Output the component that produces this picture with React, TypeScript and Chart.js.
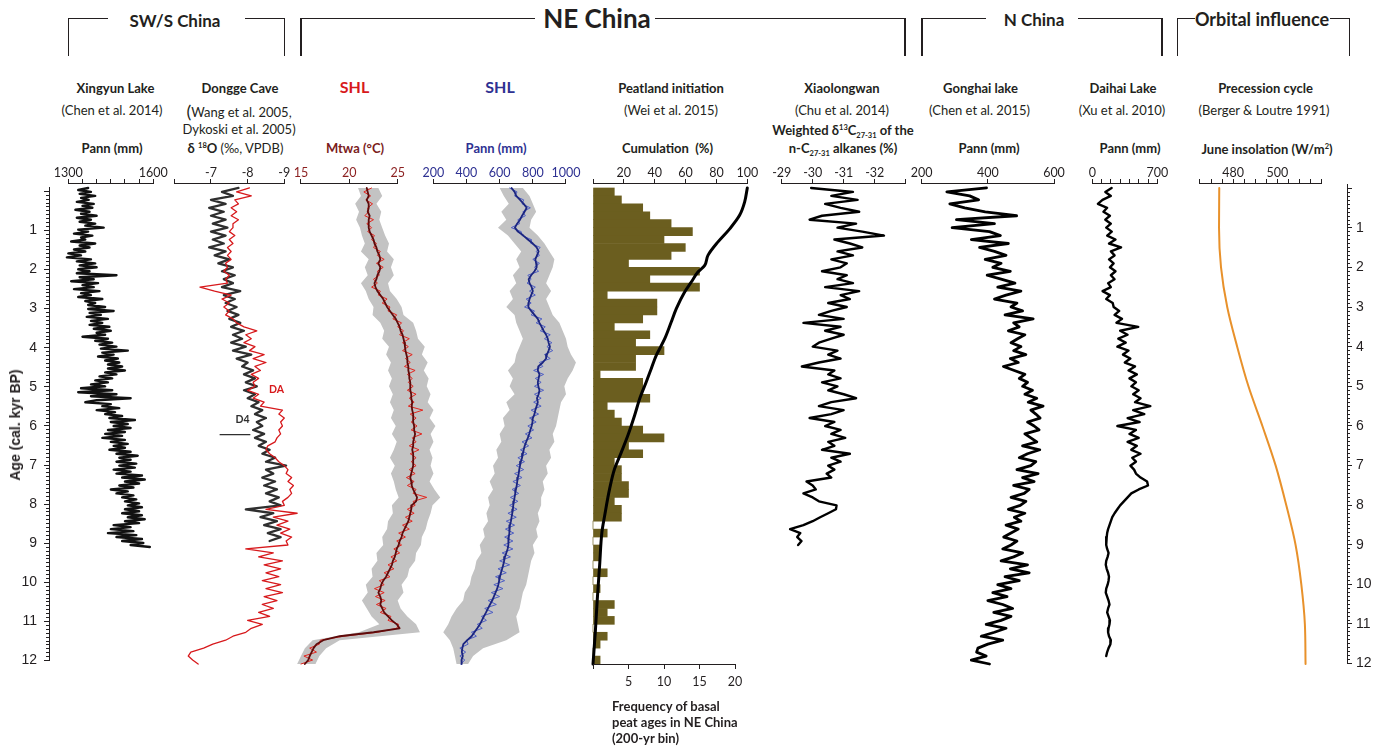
import React, { useEffect, useRef } from 'react';
import { Chart, registerables } from 'chart.js';

Chart.register(...registerables);

const FONT = "Lato, 'Open Sans', 'DejaVu Sans', sans-serif";
const AGE_FONT = "'Liberation Sans Narrow', 'Liberation Sans', Arial, sans-serif";
const INK = '#231f20';

Chart.defaults.font.family = FONT;
Chart.defaults.color = INK;

// shared vertical age frame (page px)
const PLOT_TOP = 184;
const PLOT_H = 480;
const AXIS_H = 28;
const AXIS_H_B = 26;
const PAD_T = 4;
const PAD_B = 14;
const AGE_PAD = 12;
const AGE_AXIS_W = 40;
const AGE_MIN = -0.1;
const AGE_MAX = 12;

/* ================= data ================= */

const AGE_LABELS = [1, 2, 3, 4, 5, 6, 7, 8, 9, 10, 11, 12];
const AGE_MAJOR = [0, 1, 2, 3, 4, 5, 6, 7, 8, 9, 10, 11, 12];
const AGE_MINOR = Array.from({ length: 121 }, (_, i) => i / 10);

// Xingyun Lake, Pann (mm), 0.05 kyr spacing from 0 ka
const XINGYUN_STEP = 0.05;
const xingyunPann = [
  1370, 1335, 1380, 1340, 1395, 1345, 1372, 1330, 1390, 1350,
  1385, 1325, 1375, 1345, 1400, 1330, 1380, 1340, 1395, 1360,
  1425, 1335, 1370, 1320, 1385, 1345, 1360, 1310, 1395, 1340,
  1375, 1320, 1360, 1300, 1345, 1295, 1380, 1330, 1395, 1340,
  1400, 1335, 1375, 1330, 1470, 1340, 1390, 1310, 1405, 1350,
  1390, 1320, 1410, 1345, 1380, 1335, 1420, 1360, 1395, 1370,
  1430, 1370, 1460, 1375, 1415, 1365, 1440, 1380, 1420, 1375,
  1445, 1390, 1450, 1400, 1430, 1350, 1440, 1395, 1455, 1410,
  1470, 1415, 1510, 1420, 1460, 1405, 1475, 1430, 1480, 1440,
  1490, 1440, 1500, 1430, 1470, 1410, 1455, 1395, 1440, 1380,
  1430, 1345, 1455, 1335, 1470, 1380, 1520, 1400, 1360, 1450,
  1420, 1480, 1400, 1465, 1430, 1490, 1445, 1535, 1450, 1510,
  1460, 1520, 1440, 1500, 1430, 1490, 1420, 1500, 1450, 1510,
  1460, 1500, 1445, 1520, 1470, 1545, 1480, 1520, 1470, 1540,
  1480, 1535, 1460, 1520, 1470, 1560, 1490, 1570, 1500, 1550,
  1480, 1530, 1450, 1510, 1470, 1530, 1490, 1540, 1500, 1550,
  1510, 1560, 1500, 1550, 1490, 1560, 1510, 1570, 1500, 1550,
  1460, 1520, 1450, 1530, 1440, 1540, 1470, 1560, 1490, 1565,
  1520, 1588,
];

// Dongge Cave d18O (permil), 0.1 kyr spacing
const DONGGE_STEP = 0.1;
const donggeD4 = [
  -7.75, -7.3, -7.6, -7.0, -7.4, -6.95, -7.35, -7.0, -7.4, -7.05,
  -7.45, -7.0, -7.4, -7.05, -7.35, -6.95, -7.4, -7.1, -7.5, -7.2,
  -7.6, -7.3, -7.65, -7.35, -7.6, -7.3, -7.8, -7.35, -7.65, -7.4,
  -7.7, -7.45, -7.75, -7.5, -7.8, -7.55, -7.9, -7.6, -7.85, -7.55,
  -7.95, -7.6, -8.1, -7.7, -8.0, -7.85, -8.15, -7.9, -8.2, -7.95,
  -8.25, -7.9, -8.2, -8.0, -8.3, -8.1, -8.4, -8.2, -8.5, -8.25,
  -8.4, -8.15, -8.45, -8.2, -8.5, -8.3, -8.6, -8.4, -8.75, -8.5,
  -9.05, -8.5, -8.7, -8.4, -8.75, -8.45, -8.8, -8.5, -8.85, -8.6,
  -8.9, -7.95, -8.7, -8.35, -8.8, -8.45, -8.9, -8.55, -8.9, -8.6,
];
const donggeDA = [
  -8.05, -7.7, -8.1, -7.65, -7.75, -7.55, -7.7, -7.55, -7.75, -7.6,
  -7.6, -7.5, -7.65, -7.5, -7.6, -7.45, -7.55, -7.45, -7.55, -7.4,
  -7.45, -7.35, -7.5, -7.4, -7.45, -6.7, -7.1, -7.55, -7.3, -7.5,
  -7.35, -7.5, -7.4, -7.6, -7.7, -7.9, -8.25, -7.95, -8.1, -7.9,
  -8.2, -8.05, -8.45, -8.15, -8.5, -8.2, -8.35, -8.1, -8.3, -8.15,
  -8.2, -8.0, -8.3, -8.15, -8.45, -8.35, -8.95, -8.85, -9.0, -8.9,
  -8.95, -8.85, -8.9, -8.8, -8.75, -8.55, -8.5, -8.6, -8.75, -8.85,
  -9.0, -9.1, -9.05, -9.2, -9.1, -9.25, -9.15, -9.2, -9.1, -8.95,
  -9.0, -8.5, -9.35, -8.7, -9.1, -8.8, -9.15, -8.9, -9.2, -9.05,
  -9.1, -7.95, -8.7, -8.3, -8.95, -8.45, -8.9, -8.5, -8.85, -8.4,
  -8.9, -8.5, -8.95, -8.45, -8.8, -8.4, -8.7, -8.3, -8.6, -8.0,
  -8.4, -8.1, -7.95, -7.6, -7.4, -7.05, -6.8, -6.45, -6.38, -6.5,
  -6.65,
];
const d4MarkerAge = [6.22, 6.22];
const d4MarkerValue = [-7.25, -8.06];

// SHL pollen reconstruction, 0.1 kyr (lines) and 0.2 kyr (error envelope)
const SHL_STEP = 0.1;
const SHL_BAND_STEP = 0.2;
const mtwaSmooth = [
  21.8, 21.9, 22.0, 21.8, 22.0, 22.0, 21.9, 22.1, 22.0, 22.0,
  22.0, 22.1, 22.3, 22.5, 22.6, 22.8, 22.9, 23.1, 23.2, 23.0,
  23.2, 23.1, 22.9, 22.8, 22.6, 22.7, 22.9, 23.2, 23.5, 23.7,
  23.9, 24.2, 24.5, 24.8, 25.0, 25.2, 25.3, 25.5, 25.6, 25.7,
  25.75, 25.8, 25.9, 26.0, 26.0, 26.1, 26.1, 26.2, 26.2, 26.3,
  26.3, 26.3, 26.4, 26.4, 26.5, 26.45, 26.5, 26.6, 26.6, 26.6,
  26.7, 26.7, 26.8, 26.7, 26.6, 26.6, 26.5, 26.6, 26.6, 26.6,
  26.6, 26.5, 26.4, 26.3, 26.4, 26.45, 26.6, 26.8, 27.0, 26.9,
  26.45, 26.4, 26.3, 26.2, 26.1, 25.9, 25.7, 25.5, 25.4, 25.2,
  25.1, 24.9, 24.8, 24.7, 24.5, 24.4, 24.2, 24.0, 23.8, 23.5,
  23.3, 23.2, 23.0, 23.2, 23.3, 23.2, 23.4, 23.6, 24.0, 24.4,
  24.9, 25.2, 22.5, 19.0, 17.3, 16.6, 16.3, 16.1, 15.9, 15.75,
  15.4,
];
const mtwaRaw = [
  22.3, 21.5, 22.2, 21.7, 22.4, 21.9, 22.0, 21.6, 22.5, 21.8,
  22.3, 21.9, 22.6, 22.3, 22.8, 22.5, 23.2, 22.9, 23.6, 22.8,
  23.5, 22.9, 23.1, 22.5, 22.9, 22.3, 23.2, 23.0, 23.9, 23.4,
  24.2, 24.0, 24.9, 24.5, 25.4, 25.0, 25.6, 25.2, 26.2, 25.5,
  26.1, 25.5, 26.5, 25.8, 26.3, 25.7, 26.8, 26.0, 26.5, 26.1,
  26.6, 26.0, 26.9, 26.2, 26.7, 26.1, 27.6, 26.3, 26.9, 26.4,
  27.0, 26.4, 27.5, 26.5, 26.9, 26.2, 27.2, 26.3, 26.9, 26.4,
  26.9, 26.2, 26.8, 25.9, 26.7, 26.0, 26.9, 26.6, 28.0, 26.6,
  26.8, 26.0, 26.7, 25.8, 26.5, 25.5, 26.2, 25.1, 25.8, 24.9,
  25.4, 24.6, 25.2, 24.3, 24.9, 24.0, 24.6, 23.6, 24.2, 23.1,
  23.6, 22.6, 23.6, 22.7, 23.7, 22.8, 23.8, 23.2, 24.3, 24.0,
  25.1, 24.9, 22.9, 19.4, 17.0, 16.9, 15.9, 16.6, 15.3, 16.2,
  15.0,
];
const mtwaLow = [
  20.9, 21.2, 20.6, 21.0, 20.7, 21.1, 21.3, 21.6, 21.2, 22.0,
  21.6, 21.9, 21.2, 21.7, 22.0, 22.5, 22.4, 23.2, 23.6, 23.4,
  24.1, 23.8, 24.3, 24.0, 24.4, 24.1, 24.5, 24.2, 24.6, 24.3,
  24.8, 24.4, 24.9, 24.6, 24.2, 24.7, 24.3, 24.6, 24.8, 25.1,
  24.4, 24.5, 24.0, 23.9, 23.4, 23.5, 22.8, 22.9, 22.3, 22.4,
  21.7, 21.9, 21.3, 21.8, 22.3, 23.1, 21.0, 16.2, 15.4, 15.0,
  14.6,
];
const mtwaHigh = [
  23.0, 23.4, 22.8, 23.3, 23.1, 23.4, 23.7, 24.1, 23.9, 24.6,
  24.3, 24.6, 24.0, 24.2, 24.9, 25.4, 25.6, 26.6, 26.9, 27.1,
  27.8, 27.5, 28.1, 27.7, 28.2, 28.0, 28.4, 28.1, 28.7, 28.3,
  28.9, 28.4, 28.7, 28.3, 28.6, 28.4, 28.7, 28.3, 28.8, 29.4,
  28.6, 28.4, 28.1, 27.9, 27.5, 27.4, 26.9, 26.8, 26.2, 26.0,
  25.4, 25.6, 25.0, 25.3, 26.0, 26.9, 27.3, 19.0, 17.6, 16.9,
  16.5,
];
const pannSmooth = [
  672, 690, 700, 723, 745, 763, 750, 735, 723, 705,
  692, 710, 743, 770, 800, 823, 835, 825, 815, 820,
  823, 810, 790, 775, 780, 793, 800, 790, 780, 775,
  773, 790, 810, 830, 840, 853, 865, 880, 890, 895,
  903, 895, 885, 880, 860, 833, 830, 840, 835, 830,
  833, 840, 835, 825, 830, 823, 815, 810, 800, 798,
  793, 785, 778, 770, 760, 751, 745, 740, 735, 728,
  723, 718, 715, 710, 706, 703, 698, 694, 690, 686,
  682, 680, 676, 672, 668, 662, 660, 657, 655, 653,
  652, 648, 640, 632, 627, 622, 615, 608, 602, 597,
  592, 585, 575, 565, 555, 542, 530, 518, 505, 493,
  481, 465, 448, 431, 405, 381, 375, 372, 378, 370,
  371,
];
const pannRaw = [
  660, 705, 690, 745, 735, 785, 740, 755, 710, 720,
  670, 730, 735, 790, 790, 845, 820, 840, 800, 840,
  810, 835, 770, 790, 765, 815, 780, 815, 760, 790,
  750, 810, 790, 855, 820, 875, 845, 905, 870, 915,
  885, 920, 870, 905, 840, 860, 805, 865, 815, 850,
  810, 865, 810, 850, 805, 850, 790, 835, 780, 820,
  770, 805, 755, 795, 735, 775, 725, 765, 710, 750,
  700, 745, 690, 735, 680, 725, 675, 715, 665, 710,
  660, 705, 650, 700, 640, 690, 635, 685, 630, 680,
  625, 680, 615, 665, 600, 660, 590, 640, 575, 630,
  565, 620, 550, 600, 530, 580, 510, 560, 490, 520,
  465, 495, 430, 460, 400, 410, 360, 395, 360, 390,
  365,
];
const pannLow = [
  600, 625, 655, 610, 640, 590, 650, 690, 730, 700,
  720, 680, 700, 660, 680, 640, 690, 700, 720, 740,
  720, 700, 690, 650, 680, 660, 690, 640, 660, 620,
  630, 600, 610, 580, 590, 560, 570, 540, 560, 530,
  540, 520, 530, 500, 510, 480, 490, 460, 450, 430,
  420, 390, 380, 340, 310, 290, 260, 300, 320, 330,
  340,
];
const pannHigh = [
  740, 780, 800, 820, 790, 780, 830, 870, 900, 930,
  920, 900, 880, 910, 880, 900, 920, 960, 980, 1000,
  1010, 1030, 1060, 1040, 1010, 990, 1000, 970, 960, 950,
  940, 920, 930, 900, 910, 880, 890, 860, 870, 850,
  850, 830, 840, 820, 830, 800, 810, 790, 780, 770,
  760, 740, 730, 720, 700, 710, 720, 640, 500, 440,
  410,
];

// Peatland initiation: 200-yr bins of basal peat ages and their cumulative share
const PEAT_BIN = 0.2;
const peatFreq = [
  3, 4, 7, 8, 11, 14, 10, 13, 11, 5,
  15, 8, 15, 2, 9, 9, 7, 3, 8, 6,
  10, 6, 6, 1, 7, 7, 8, 2, 3, 4,
  7, 10, 5, 7, 3, 4, 4, 5, 5, 3,
  4, 4, 0, 2, 0, 1, 1, 0, 2, 0,
  1, 0, 3, 2, 3, 0, 2, 1, 0, 1,
];
const peatCumAge = [0, 0.35, 0.69, 1.03, 1.36, 1.7, 1.95, 2.12, 2.37, 2.62, 3.04, 3.38, 3.8, 4.22, 4.55, 4.89, 5.31, 5.73, 6.23, 6.66, 7.08, 7.58, 8.25, 8.67, 9.51, 10.35, 11.19, 12.0];
const peatCumPct = [100, 98.3, 95, 88.6, 81, 74.5, 72.4, 68, 63.7, 59.4, 54, 50.7, 46.5, 41, 37.8, 34.5, 30.3, 27, 22.7, 18.4, 14, 10.8, 7.6, 5.8, 4.3, 2.8, 1.5, 0];

// Xiaolongwan weighted d13C of n-C27-31 alkanes, 0.1 kyr spacing
const XIAO_STEP = 0.1;
const xiaoD13C = [
  -29.95, -31.3, -30.6, -31.45, -30.4, -30.9, -31.5, -30.3, -29.9, -31.4,
  -30.8, -31.6, -32.3, -30.7, -31.2, -31.6, -30.8, -31.3, -30.6, -31.1,
  -30.9, -30.3, -31.1, -30.8, -31.3, -30.4, -31.5, -30.9, -31.2, -30.5,
  -31.1, -30.6, -30.2, -31.0, -29.7, -30.9, -30.4, -31.0, -30.6, -30.2,
  -30.0, -30.8, -30.5, -30.9, -30.2, -29.65, -30.7, -30.5, -30.9, -30.3,
  -30.8, -30.5, -31.0, -31.4, -30.6, -30.2, -31.0, -30.6, -29.9, -30.7,
  -30.4, -30.9, -30.6, -31.05, -30.5, -30.7, -30.3, -31.2, -30.6, -30.9,
  -30.5, -30.7, -30.45, -30.6, -29.8, -30.0, -30.1, -29.7, -30.0, -30.2,
  -30.77, -30.75, -30.5, -30.24, -30.0, -29.7, -29.27, -29.6, -29.5, -29.64,
  -29.53,
];

// Gonghai Lake, Pann (mm), 0.1 kyr spacing
const GONGHAI_STEP = 0.1;
const gonghaiPann = [
  396, 276, 345, 372, 285, 330, 392, 487, 305, 420,
  292, 405, 438, 350, 462, 375, 420, 455, 392, 440,
  415, 468, 398, 440, 482, 430, 500, 455, 420, 488,
  470, 505, 452, 537, 478, 495, 462, 512, 490, 470,
  500, 478, 515, 468, 492, 447, 480, 512, 495, 520,
  505, 535, 512, 548, 522, 567, 530, 545, 558, 520,
  540, 555, 512, 530, 548, 505, 557, 520, 495, 545,
  530, 488, 552, 505, 540, 478, 525, 510, 470, 515,
  498, 462, 512, 480, 500, 455, 492, 470, 448, 488,
  470, 445, 505, 478, 440, 520, 468, 525, 452, 495,
  430, 470, 415, 458, 400, 445, 475, 418, 470, 440,
  395, 455, 420, 380, 445, 400, 370, 366, 395, 350,
  405, 322,
];

// Daihai Lake, Pann (mm), 0.1 kyr spacing
const DAIHAI_STEP = 0.1;
const daihaiPann = [
  208, 140, 200, 110, 60, 160, 120, 190, 140, 200,
  150, 210, 160, 250, 180, 310, 200, 240, 180, 230,
  190, 250, 200, 240, 170, 200, 110, 190, 150, 220,
  230, 290, 240, 320, 260, 495, 300, 380, 280, 360,
  270, 390, 330, 410, 350, 460, 390, 480, 400, 470,
  420, 500, 440, 520, 460, 625, 440, 560, 380, 510,
  270, 470, 400, 500, 380, 480, 420, 520, 430, 470,
  410, 450, 470, 520, 590, 600, 500, 420, 380, 340,
  300, 270, 240, 215, 200, 185, 170, 160, 155, 150,
  150, 160, 175, 165, 150, 145, 155, 170, 180, 175,
  165, 150, 145, 160, 175, 185, 170, 160, 175, 190,
  185, 175, 170, 180, 200, 195, 175, 160, 150,
];

// June insolation (W/m2), precession cycle, 1 kyr spacing
const insolAge = [0, 1, 2, 3, 4, 5, 6, 7, 8, 9, 10, 11, 12];
const insolJune = [473.7, 473.6, 474.5, 477.3, 481.8, 486.9, 493.2, 499.2, 504, 508.2, 510.8, 512.4, 512.7];

// axis ticks and labelled ticks
const xingyunTicks = [1300, 1350, 1400, 1450, 1500, 1550, 1600];
const xingyunLabels = [1300, 1600];
const donggeTicks = [-6, -7, -8, -9];
const donggeLabels = [-7, -8, -9];
const mtwaTicks = [15, 20, 25];
const shlPannTicks = [200, 400, 600, 800, 1000];
const cumTicks = [0, 20, 40, 60, 80, 100];
const cumLabels = [20, 40, 60, 80, 100];
const freqTicks = [0, 5, 10, 15, 20];
const freqLabels = [5, 10, 15, 20];
const xiaoTicks = [-29, -30, -31, -32, -33];
const xiaoLabels = [-29, -30, -31, -32];
const gonghaiTicks = [200, 400, 600];
const daihaiTicks = [0, 100, 200, 300, 400, 500, 600, 700];
const daihaiLabels = [0, 700];
const insolTicks = [465, 470, 475, 480, 485, 490, 495, 500, 505, 510, 515, 520];
const insolLabels = [480, 500];

/* ================= helpers ================= */

type Pt = { x: number; y: number };
const profile = (step: number, values: number[]): Pt[] =>
  values.map((v, i) => ({ x: v, y: Math.round(i * step * 1000) / 1000 }));
const pairs = (ages: number[], values: number[]): Pt[] => ages.map((a, i) => ({ x: values[i], y: a }));

interface AxisSpec {
  id: string;
  position: 'top' | 'bottom';
  a: number; // value at page x pa
  pa: number;
  b: number; // value at page x pb
  pb: number;
  ticks: number[];
  labels: number[];
  color?: string;
}

interface PanelSpec {
  key: string;
  cL: number;
  cR: number;
  type?: 'line' | 'bar';
  axes: AxisSpec[];
  datasets: any[];
}

function xScale(cL: number, cR: number, ax: AxisSpec) {
  const k = (ax.b - ax.a) / (ax.pb - ax.pa);
  const vL = ax.a + (cL - ax.pa) * k;
  const vR = ax.a + (cR - ax.pa) * k;
  const top = ax.position === 'top';
  return {
    type: 'linear',
    position: ax.position,
    offset: false,
    bounds: 'data',
    min: Math.min(vL, vR),
    max: Math.max(vL, vR),
    reverse: vR < vL,
    afterFit: (s: any) => {
      s.height = top ? AXIS_H : AXIS_H_B;
    },
    afterBuildTicks: (s: any) => {
      s.ticks = ax.ticks.map((v) => ({ value: v }));
    },
    border: { display: false },
    grid: { display: true, drawOnChartArea: false, drawTicks: true, tickLength: 5, color: INK, lineWidth: 1, offset: false },
    ticks: {
      autoSkip: false,
      maxRotation: 0,
      minRotation: 0,
      padding: top ? 0 : 7,
      color: ax.color ?? INK,
      font: { family: FONT, size: 12.5, lineHeight: 1 },
      callback: (v: any) => (ax.labels.includes(Number(v)) ? String(v) : ''),
    },
  };
}

// draws each axis baseline only over its labelled value range
const axisLinePlugin = (axes: AxisSpec[]) => ({
  id: 'axisLine',
  afterDraw(chart: any) {
    const ctx = chart.ctx;
    ctx.save();
    ctx.strokeStyle = INK;
    ctx.lineWidth = 1.2;
    for (const ax of axes) {
      const sc = chart.scales[ax.id];
      const y = ax.position === 'top' ? Math.round(chart.chartArea.top) - 0.5 : Math.round(chart.chartArea.bottom) + 0.5;
      ctx.beginPath();
      ctx.moveTo(sc.getPixelForValue(ax.a), y);
      ctx.lineTo(sc.getPixelForValue(ax.b), y);
      ctx.stroke();
    }
    ctx.restore();
  },
});

const line = (xAxisID: string, data: Pt[], color: string, width: number, order = 0, extra: any = {}) => ({
  type: 'line',
  xAxisID,
  yAxisID: 'y',
  data,
  borderColor: color,
  borderWidth: width,
  pointRadius: 0,
  pointHoverRadius: 0,
  fill: false,
  tension: 0,
  clip: false,
  order,
  borderJoinStyle: 'round',
  borderCapStyle: 'round',
  ...extra,
});

const band = (xAxisID: string, lower: Pt[], upper: Pt[], color: string, order: number) => [
  line(xAxisID, lower, 'rgba(0,0,0,0)', 0, order),
  line(xAxisID, upper, 'rgba(0,0,0,0)', 0, order, { fill: '-1', backgroundColor: color }),
];

function buildConfig(p: PanelSpec): any {
  const scales: any = {
    y: {
      type: 'linear',
      display: false,
      min: AGE_MIN,
      max: AGE_MAX,
      reverse: true,
      offset: false,
      bounds: 'data',
      // no hidden ticks, so bar thickness follows the 200-yr bin spacing
      afterBuildTicks: (s: any) => {
        s.ticks = [];
      },
    },
  };
  for (const ax of p.axes) scales[ax.id] = xScale(p.cL, p.cR, ax);
  return {
    type: p.type ?? 'line',
    data: { datasets: p.datasets },
    options: {
      responsive: false,
      animation: false,
      events: [],
      indexAxis: 'y',
      layout: { padding: { left: 0, right: 0, top: PAD_T, bottom: PAD_B } },
      plugins: { legend: { display: false }, tooltip: { enabled: false }, title: { display: false } },
      scales,
    },
    plugins: [axisLinePlugin(p.axes)],
  };
}

/* ================= panels ================= */

const GREY_BAND = '#c3c3c3';

const PANELS: PanelSpec[] = [
  {
    key: 'xingyun',
    cL: 45,
    cR: 170,
    axes: [{ id: 'x', position: 'top', a: 1300, pa: 68.3, b: 1600, pb: 153.3, ticks: xingyunTicks, labels: xingyunLabels }],
    datasets: [line('x', profile(XINGYUN_STEP, xingyunPann), '#111111', 2.4)],
  },
  {
    key: 'dongge',
    cL: 150,
    cR: 305,
    axes: [{ id: 'x', position: 'top', a: -6, pa: 174.3, b: -9, pb: 284.3, ticks: donggeTicks, labels: donggeLabels }],
    datasets: [
      line('x', profile(DONGGE_STEP, donggeDA), '#d7191c', 1.3, 0),
      line('x', profile(DONGGE_STEP, donggeD4), '#2f2f2f', 2.3, 1),
      line('x', pairs(d4MarkerAge, d4MarkerValue), '#2f2f2f', 1.3, 2),
    ],
  },
  {
    key: 'mtwa',
    cL: 285,
    cR: 450,
    axes: [{ id: 'x', position: 'top', a: 15, pa: 301, b: 25, pb: 397.7, ticks: mtwaTicks, labels: mtwaTicks, color: '#8b1f1f' }],
    datasets: [
      ...band('x', profile(SHL_BAND_STEP, mtwaLow), profile(SHL_BAND_STEP, mtwaHigh), GREY_BAND, 3),
      line('x', profile(SHL_STEP, mtwaRaw), '#e3261f', 1, 1),
      line('x', profile(SHL_STEP, mtwaSmooth), '#5e0b0b', 1.8, 0),
    ],
  },
  {
    key: 'shlPann',
    cL: 415,
    cR: 590,
    axes: [{ id: 'x', position: 'top', a: 200, pa: 433.3, b: 1000, pb: 566, ticks: shlPannTicks, labels: shlPannTicks, color: '#2e3192' }],
    datasets: [
      ...band('x', profile(SHL_BAND_STEP, pannLow), profile(SHL_BAND_STEP, pannHigh), GREY_BAND, 3),
      line('x', profile(SHL_STEP, pannRaw), '#4f5fc4', 1, 1),
      line('x', profile(SHL_STEP, pannSmooth), '#1b2580', 1.8, 0),
    ],
  },
  {
    key: 'peat',
    cL: 570,
    cR: 770,
    type: 'bar',
    axes: [
      { id: 'xCum', position: 'top', a: 0, pa: 593, b: 100, pb: 747.3, ticks: cumTicks, labels: cumLabels },
      { id: 'xFreq', position: 'bottom', a: 0, pa: 593, b: 20, pb: 735, ticks: freqTicks, labels: freqLabels },
    ],
    datasets: [
      line('xCum', pairs(peatCumAge, peatCumPct), '#000000', 3, 0, { cubicInterpolationMode: 'monotone' }),
      {
        type: 'bar',
        xAxisID: 'xFreq',
        yAxisID: 'y',
        data: peatFreq.map((f, i) => ({ x: f, y: Math.round((PEAT_BIN / 2 + i * PEAT_BIN) * 1000) / 1000 })),
        backgroundColor: '#6b5e1f',
        borderWidth: 0,
        barPercentage: 1,
        categoryPercentage: 1,
        grouped: false,
        order: 1,
      },
    ],
  },
  {
    key: 'xiao',
    cL: 760,
    cR: 925,
    axes: [{ id: 'x', position: 'top', a: -29, pa: 781.7, b: -33, pb: 905.7, ticks: xiaoTicks, labels: xiaoLabels }],
    datasets: [line('x', profile(XIAO_STEP, xiaoD13C), '#000000', 2.4)],
  },
  {
    key: 'gonghai',
    cL: 900,
    cR: 1075,
    axes: [{ id: 'x', position: 'top', a: 200, pa: 921.7, b: 600, pb: 1054, ticks: gonghaiTicks, labels: gonghaiTicks }],
    datasets: [line('x', profile(GONGHAI_STEP, gonghaiPann), '#000000', 2.8)],
  },
  {
    key: 'daihai',
    cL: 1075,
    cR: 1175,
    axes: [{ id: 'x', position: 'top', a: 0, pa: 1092.3, b: 700, pb: 1157.3, ticks: daihaiTicks, labels: daihaiLabels }],
    datasets: [line('x', profile(DAIHAI_STEP, daihaiPann), '#000000', 2.4)],
  },
  {
    key: 'insol',
    cL: 1180,
    cR: 1338,
    axes: [{ id: 'x', position: 'top', a: 465, pa: 1200, b: 520, pb: 1321.7, ticks: insolTicks, labels: insolLabels }],
    datasets: [line('x', pairs(insolAge, insolJune), '#e8912b', 2, 0, { cubicInterpolationMode: 'monotone' })],
  },
];

function Panel({ spec }: { spec: PanelSpec }) {
  const ref = useRef<HTMLCanvasElement>(null);
  const hasBottom = spec.axes.some((a) => a.position === 'bottom');
  const width = spec.cR - spec.cL;
  const height = PAD_T + AXIS_H + PLOT_H + (hasBottom ? AXIS_H_B : 0) + PAD_B;
  useEffect(() => {
    const chart = new Chart(ref.current as HTMLCanvasElement, buildConfig(spec));
    return () => chart.destroy();
  }, [spec]);
  return (
    <canvas
      ref={ref}
      width={width}
      height={height}
      style={{ position: 'absolute', left: spec.cL, top: PLOT_TOP - AXIS_H - PAD_T, width, height }}
    />
  );
}

function ageAxisConfig(side: 'left' | 'right', major: boolean): any {
  return {
    type: 'line',
    data: { datasets: [] },
    options: {
      responsive: false,
      animation: false,
      events: [],
      layout: { padding: { top: AGE_PAD, bottom: AGE_PAD, left: 0, right: 0 } },
      plugins: { legend: { display: false }, tooltip: { enabled: false } },
      scales: {
        x: { type: 'linear', display: false, min: 0, max: 1 },
        y: {
          type: 'linear',
          position: side,
          min: AGE_MIN,
          max: AGE_MAX,
          reverse: true,
          bounds: 'data',
          offset: false,
          afterFit: (s: any) => {
            s.width = AGE_AXIS_W;
          },
          afterBuildTicks: (s: any) => {
            s.ticks = (major ? AGE_MAJOR : AGE_MINOR).map((v) => ({ value: v }));
          },
          border: { display: major, color: INK, width: 1 },
          grid: { drawOnChartArea: false, drawTicks: true, tickLength: major ? 5 : 3, color: INK, lineWidth: 1 },
          ticks: {
            autoSkip: false,
            padding: side === 'left' ? 7 : 4,
            color: INK,
            font: { family: AGE_FONT, size: 14 },
            callback: (v: any) => (major && AGE_LABELS.includes(Number(v)) ? String(v) : ''),
          },
        },
      },
    },
  };
}

function AgeAxis({ side, major }: { side: 'left' | 'right'; major: boolean }) {
  const ref = useRef<HTMLCanvasElement>(null);
  const width = AGE_AXIS_W + 10;
  const height = PLOT_H + 2 * AGE_PAD;
  const left = side === 'left' ? 9 : 1337;
  useEffect(() => {
    const chart = new Chart(ref.current as HTMLCanvasElement, ageAxisConfig(side, major));
    return () => chart.destroy();
  }, [side, major]);
  return (
    <canvas
      ref={ref}
      width={width}
      height={height}
      style={{ position: 'absolute', left, top: PLOT_TOP - AGE_PAD, width, height }}
    />
  );
}

/* ================= text ================= */

function Txt({
  x,
  y,
  children,
  size = 13,
  bold = false,
  color = INK,
  align = 'center',
  family = FONT,
}: {
  x: number;
  y: number;
  children: React.ReactNode;
  size?: number;
  bold?: boolean;
  color?: string;
  align?: 'center' | 'left';
  family?: string;
}) {
  return (
    <div
      style={{
        position: 'absolute',
        left: x,
        top: y,
        transform: `translate(${align === 'center' ? '-50%' : '0'}, -50%)`,
        fontSize: size,
        fontWeight: bold ? 700 : 400,
        color,
        fontFamily: family,
        whiteSpace: 'nowrap',
        lineHeight: 1,
      }}
    >
      {children}
    </div>
  );
}

const sup = (t: string) => <span style={{ fontSize: 7.5, position: 'relative', top: -5 }}>{t}</span>;
const sub = (t: string) => <span style={{ fontSize: 7.5, position: 'relative', top: 3 }}>{t}</span>;

function Bracket({ l, r, segL, segR }: { l: number; r: number; segL: number; segR: number }) {
  const s = { position: 'absolute' as const, background: INK };
  return (
    <>
      <div style={{ ...s, left: l, top: 17.5, width: segL - l, height: 1.8 }} />
      <div style={{ ...s, left: segR, top: 17.5, width: r - segR + 1.8, height: 1.8 }} />
      <div style={{ ...s, left: l, top: 17.5, width: 1.8, height: 38 }} />
      <div style={{ ...s, left: r, top: 17.5, width: 1.8, height: 38 }} />
    </>
  );
}

export default function App() {
  return (
    <div
      style={{
        position: 'absolute',
        left: 0,
        top: 0,
        width: 1379,
        height: 748,
        background: '#ffffff',
        fontFamily: FONT,
        color: INK,
        overflow: 'hidden',
      }}
    >
      {/* region groupings */}
      <Bracket l={67.5} r={283.5} segL={108} segR={245} />
      <Txt x={175} y={20} size={17} bold>SW/S China</Txt>
      <Bracket l={300} r={904} segL={535} segR={655} />
      <Txt x={597} y={18} size={26} bold>NE China</Txt>
      <Bracket l={921} r={1161} segL={986} segR={1078} />
      <Txt x={1034} y={19} size={17} bold>N China</Txt>
      <Bracket l={1176.5} r={1348.5} segL={1195} segR={1330} />
      <Txt x={1262} y={19} size={18} bold>Orbital influence</Txt>

      {/* record titles */}
      <Txt x={115.5} y={88} bold>Xingyun Lake</Txt>
      <Txt x={112} y={110}>(Chen et al. 2014)</Txt>
      <Txt x={112} y={148} bold>Pann (mm)</Txt>

      <Txt x={240} y={88} bold>Dongge Cave</Txt>
      <Txt x={239} y={110}>
        <span style={{ fontSize: 18, position: 'relative', top: 1 }}>(</span>Wang et al. 2005,
      </Txt>
      <Txt x={239} y={129}>Dykoski et al. 2005)</Txt>
      <Txt x={235.5} y={148}>
        <b>δ </b>
        <b>{sup('18')}</b>
        <b>O</b> (‰, VPDB)
      </Txt>

      <Txt x={354.5} y={87} size={16} bold color="#d7191c">SHL</Txt>
      <Txt x={355} y={148} bold color="#7b1c1c">Mtwa (°C)</Txt>

      <Txt x={500} y={87} size={16} bold color="#2e3192">SHL</Txt>
      <Txt x={496} y={148} bold color="#2e3192">Pann (mm)</Txt>

      <Txt x={671} y={88} bold>Peatland initiation</Txt>
      <Txt x={671} y={110}>(Wei et al. 2015)</Txt>
      <Txt x={667.5} y={148} bold>Cumulation&nbsp; (%)</Txt>

      <Txt x={842} y={88} bold>Xiaolongwan</Txt>
      <Txt x={842} y={110}>(Chu et al. 2014)</Txt>
      <Txt x={843} y={130} bold>
        Weighted δ{sup('13')}C{sub('27-31')} of the
      </Txt>
      <Txt x={843} y={148} bold>
        n-C{sub('27-31')} alkanes (%)
      </Txt>

      <Txt x={980.5} y={88} bold>Gonghai lake</Txt>
      <Txt x={979.5} y={110}>(Chen et al. 2015)</Txt>
      <Txt x={989} y={148} bold>Pann (mm)</Txt>

      <Txt x={1123} y={88} bold>Daihai Lake</Txt>
      <Txt x={1122} y={110}>(Xu et al. 2010)</Txt>
      <Txt x={1130} y={148} bold>Pann (mm)</Txt>

      <Txt x={1265.5} y={88} bold>Precession cycle</Txt>
      <Txt x={1264} y={110}>(Berger &amp; Loutre 1991)</Txt>
      <Txt x={1267} y={149} bold>
        June insolation (W/m{sup('2')})
      </Txt>

      {/* charts */}
      {PANELS.map((p) => (
        <Panel key={p.key} spec={p} />
      ))}
      <AgeAxis side="left" major={false} />
      <AgeAxis side="left" major />
      <AgeAxis side="right" major={false} />
      <AgeAxis side="right" major />

      {/* annotations */}
      <Txt x={276.5} y={389} size={10.5} bold color="#d7191c">DA</Txt>
      <Txt x={242.5} y={419} size={10.5} bold color="#2f2f2f">D4</Txt>

      <Txt x={612} y={706} bold align="left">Frequency of basal</Txt>
      <Txt x={612} y={722} bold align="left">peat ages in NE China</Txt>
      <Txt x={612} y={738} bold align="left">(200-yr bin)</Txt>

      <div
        style={{
          position: 'absolute',
          left: 15,
          top: 425,
          transform: 'translate(-50%, -50%) rotate(-90deg)',
          fontWeight: 700,
          fontSize: 14,
          fontFamily: AGE_FONT,
          whiteSpace: 'nowrap',
          lineHeight: 1,
          color: INK,
        }}
      >
        Age (cal. kyr BP)
      </div>
    </div>
  );
}
